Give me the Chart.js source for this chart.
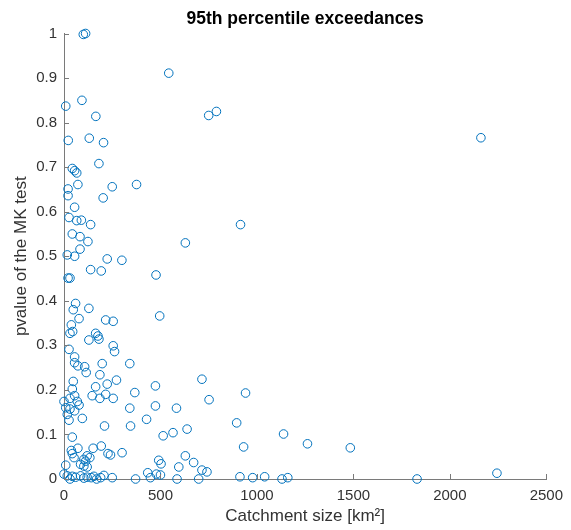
<!DOCTYPE html>
<html>
<head>
<meta charset="utf-8">
<script src="https://cdn.jsdelivr.net/npm/chart.js@4/dist/chart.umd.min.js"></script>
<style>
  html, body { margin: 0; padding: 0; background: #fff; }
  #wrap { width: 571px; height: 530px; }
</style>
</head>
<body>
<div id="wrap"><canvas id="c" width="571" height="530"></canvas></div>
<script>
// Catchment size [km²] of each station
const catchmentSize = [
  100, 112, 543, 9, 93, 165, 750, 790, 22, 131, 205, 181, 43, 55, 66,
  72, 21, 21, 250, 376, 203, 55, 26, 66, 90, 138, 43, 83, 124, 629, 83, 17, 55, 224, 300,
  138, 193, 477, 21, 31, 60, 48, 129, 496, 78, 216, 255,
  38, 31, 45, 129, 164, 176, 181, 255, 262, 26, 55, 55, 72, 107, 115, 198, 341, 186, 48,
  272, 224, 164, 43, 367, 474, 715, 752, 146, 186, 216, 255, 55, 31, 0, 9, 69, 78, 31, 55,
  17, 26, 95, 341, 474, 583, 428, 210, 345, 638, 565, 514, 43, 38, 43, 72, 151, 193, 228,
  241, 301, 120, 134, 103, 112, 52, 86, 103, 120, 9, 0, 491, 503, 629, 672, 595, 434, 715,
  741, 479, 500,
  17, 43, 31, 60, 86, 103, 120, 141, 155, 169, 190, 207, 250, 371, 448, 586, 698,
  941, 895, 931, 1138, 1262, 1484, 912, 978, 1040, 1130, 1160, 1830, 2244, 2161, 915
];
// p-value of the Mann-Kendall test for each station
const pValue = [
  0.998, 1.0, 0.911, 0.837, 0.850, 0.814, 0.816, 0.825, 0.760, 0.765, 0.755, 0.708, 0.697, 0.692, 0.687,
  0.661, 0.651, 0.636, 0.656, 0.661, 0.631, 0.610, 0.587, 0.580, 0.581, 0.571, 0.550, 0.544, 0.533, 0.530, 0.516, 0.503, 0.500, 0.494, 0.491,
  0.470, 0.467, 0.458, 0.451, 0.451, 0.394, 0.380, 0.383, 0.366, 0.360, 0.357, 0.354,
  0.346, 0.327, 0.331, 0.312, 0.327, 0.321, 0.314, 0.299, 0.286, 0.291, 0.274, 0.261, 0.254, 0.252, 0.239, 0.259, 0.259, 0.234, 0.219,
  0.222, 0.213, 0.207, 0.202, 0.194, 0.209, 0.224, 0.178, 0.187, 0.181, 0.190, 0.181, 0.187, 0.181, 0.174, 0.160, 0.174, 0.166, 0.157, 0.153,
  0.145, 0.132, 0.136, 0.159, 0.164, 0.159, 0.134, 0.119, 0.119, 0.112, 0.104, 0.097, 0.094, 0.064, 0.057, 0.069, 0.069, 0.074, 0.057,
  0.054, 0.059, 0.052, 0.048, 0.044, 0.040, 0.048, 0.033, 0.029, 0.027, 0.031, 0.011, 0.042, 0.034, 0.052, 0.037, 0.027, 0.014, 0.020,
  0.016, 0.011, 0.009,
  0.007, 0.006, 0.0, 0.004, 0.007, 0.002, 0.004, 0.003, 0.006, 0.0, 0.003, 0.008, 0.003, 0.0, 0.003, 0.0, 0.0,
  0.193, 0.126, 0.072, 0.101, 0.079, 0.070, 0.005, 0.003, 0.005, 0.0, 0.003, 0.0, 0.013, 0.766, 0.571
];
const xTicks = [0, 500, 1000, 1500, 2000, 2500];
const yTicks = [0, 0.1, 0.2, 0.3, 0.4, 0.5, 0.6, 0.7, 0.8, 0.9, 1];

const FONT = '"Liberation Sans", Arial, Helvetica, sans-serif';
const TEXT = '#333333';
const AXIS = '#7a7a7a';
const BLUE = 'rgb(0,114,189)';

const points = catchmentSize.map((x, i) => ({ x: x, y: pValue[i] }));

// MATLAB-style inward tick marks, positioned by the chart's scales
const innerTicks = {
  id: 'innerTicks',
  afterDraw(chart) {
    const { ctx, chartArea, scales } = chart;
    ctx.save();
    ctx.strokeStyle = AXIS;
    ctx.lineWidth = 1;
    ctx.beginPath();
    xTicks.forEach(v => {
      const px = Math.round(scales.x.getPixelForValue(v)) + 0.5;
      ctx.moveTo(px, chartArea.bottom);
      ctx.lineTo(px, chartArea.bottom - 5);
    });
    yTicks.forEach(v => {
      const py = Math.round(scales.y.getPixelForValue(v)) + 0.5;
      ctx.moveTo(chartArea.left, py);
      ctx.lineTo(chartArea.left + 5, py);
    });
    ctx.stroke();
    ctx.restore();
  }
};

new Chart(document.getElementById('c'), {
  type: 'scatter',
  data: {
    datasets: [{
      data: points,
      pointStyle: 'circle',
      pointRadius: 4.3,
      pointHoverRadius: 4.3,
      pointBorderWidth: 1,
      borderColor: BLUE,
      backgroundColor: 'rgba(0,0,0,0)',
      clip: false
    }]
  },
  options: {
    responsive: false,
    animation: false,
    events: [],
    layout: { padding: { left: 0, right: 23, top: 0, bottom: 0 } },
    plugins: {
      legend: { display: false },
      tooltip: { enabled: false },
      title: {
        display: true,
        fullSize: false,
        text: '95th percentile exceedances',
        color: '#000',
        font: { family: FONT, size: 17.5, weight: 'bold' },
        padding: { top: 9, bottom: 3.5 }
      }
    },
    scales: {
      x: {
        type: 'linear',
        min: 0, max: 2500,
        afterFit(scale) { scale.height = 51; },
        afterBuildTicks(scale) { scale.ticks = xTicks.map(v => ({ value: v })); },
        grid: { display: true, drawOnChartArea: false, drawTicks: false },
        border: { display: true, color: AXIS, width: 1 },
        ticks: {
          color: TEXT, padding: 8, maxRotation: 0, autoSkip: false,
          font: { family: FONT, size: 15 },
          callback: v => String(v)
        },
        title: {
          display: true, text: 'Catchment size [km²]', color: TEXT,
          font: { family: FONT, size: 17 }, padding: { top: 0, bottom: 3 }
        }
      },
      y: {
        type: 'linear',
        min: 0, max: 1,
        afterFit(scale) { scale.width = 64; },
        afterBuildTicks(scale) { scale.ticks = yTicks.map(v => ({ value: v })); },
        grid: { display: true, drawOnChartArea: false, drawTicks: false },
        border: { display: true, color: AXIS, width: 1 },
        ticks: {
          color: TEXT, padding: 7, autoSkip: false,
          font: { family: FONT, size: 15 },
          callback: v => String(Math.round(v * 10) / 10)
        },
        title: {
          display: true, text: 'pvalue of the MK test', color: TEXT,
          font: { family: FONT, size: 17 }, padding: { top: 11, bottom: 0 }
        }
      }
    }
  },
  plugins: [innerTicks]
});
</script>
</body>
</html>
